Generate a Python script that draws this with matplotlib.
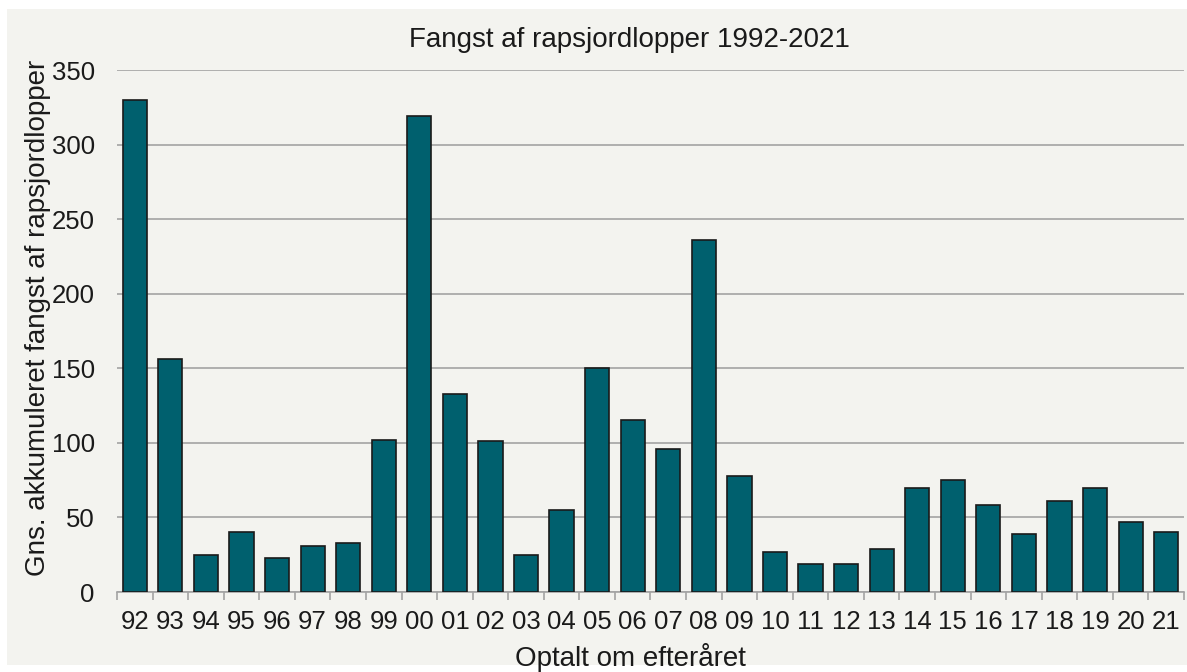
import matplotlib.pyplot as plt
from matplotlib.patches import Rectangle

plt.rcParams["font.family"] = ["Liberation Sans", "DejaVu Sans"]

years = ["92", "93", "94", "95", "96", "97", "98", "99", "00", "01",
         "02", "03", "04", "05", "06", "07", "08", "09", "10", "11",
         "12", "13", "14", "15", "16", "17", "18", "19", "20", "21"]

catch = [330, 156, 25, 40, 23, 31, 33, 102, 319, 133,
         101, 25, 55, 150, 115, 96, 236, 78, 27, 19,
         19, 29, 70, 75, 58, 39, 61, 70, 47, 40]

BAR_COLOR = "#00606E"
BG_COLOR = "#F3F3EF"
GRID_COLOR = "#A3A3A3"
FS = 20
TICK_FS = 18.5

fig = plt.figure(figsize=(11.87, 6.72), dpi=100)
fig.patch.set_facecolor("white")

# grey chart area behind everything
fig.patches.append(
    Rectangle(
        (7 / 1187, 7 / 672),
        1 - 7 / 1187,
        (672 - 16) / 672,
        transform=fig.transFigure,
        facecolor=BG_COLOR,
        edgecolor="none",
        zorder=-10
    )
)

ax = fig.add_axes([117 / 1187, 80 / 672, 1067 / 1187, 522 / 672])
ax.set_facecolor("none")

x = range(len(years))

ax.bar(
    x,
    catch,
    width=0.68,
    color=BAR_COLOR,
    edgecolor="#1a1a1a",
    linewidth=1.2,
    zorder=3
)

ax.set_xlim(-0.5, len(years) - 0.5)
ax.set_ylim(0, 350)
ax.set_yticks(range(0, 351, 50))

ax.yaxis.grid(True, color=GRID_COLOR, linewidth=1.2, zorder=0)
ax.set_axisbelow(True)

for side in ["top", "right", "left"]:
    ax.spines[side].set_visible(False)
ax.spines["bottom"].set_color(GRID_COLOR)
ax.spines["bottom"].set_linewidth(1.2)

ax.set_xticks(list(x))
ax.set_xticklabels(years)
ax.tick_params(axis="x", length=0, labelsize=TICK_FS, pad=13, labelcolor="#1a1a1a")
ax.set_xticks([i - 0.5 for i in range(len(years) + 1)], minor=True)
ax.tick_params(axis="x", which="minor", length=6, color=GRID_COLOR, width=1.2)
ax.tick_params(axis="y", length=0, labelsize=TICK_FS, pad=16, labelcolor="#1a1a1a")

fig.text(629 / 1187, 1 - 40 / 672, "Fangst af rapsjordlopper 1992-2021",
         ha="center", va="center", fontsize=FS, color="#1a1a1a")
fig.text(630 / 1187, 1 - 658 / 672, "Optalt om efteråret",
         ha="center", va="center", fontsize=FS, color="#1a1a1a")
fig.text(38 / 1187, 1 - 318 / 672, "Gns. akkumuleret fangst af rapsjordlopper",
         ha="center", va="center", rotation=90, fontsize=FS, color="#1a1a1a")

fig.savefig("out.png", dpi=100, facecolor=fig.get_facecolor())
